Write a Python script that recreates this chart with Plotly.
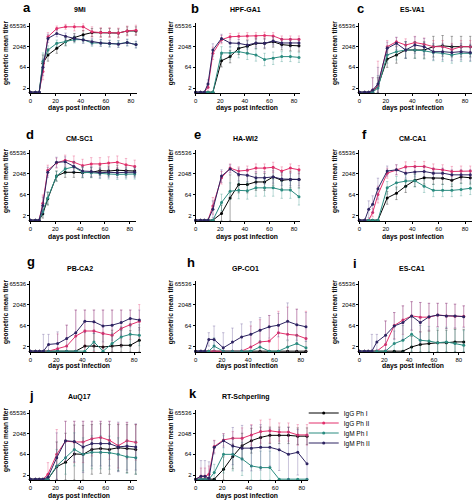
import plotly.graph_objects as go
import math

# ---------------- data (log2 of geometric mean titer) ----------------
days = [0, 4, 7, 10, 14, 21, 28, 35, 42, 49, 56, 63, 70, 77, 84]
series_names = ["IgG Ph I", "IgG Ph II", "IgM Ph I", "IgM Ph II"]
panel_letters = ["a", "b", "c", "d", "e", "f", "g", "h", "i", "j", "k"]
panel_titles = ["9Mi", "HPF-GA1", "ES-VA1", "CM-SC1", "HA-WI2", "CM-CA1",
                "PB-CA2", "GP-CO1", "ES-CA1", "AuQ17", "RT-Schperling"]
y_tick_titers = [2, 64, 2048, 65536]
x_ticks = [0, 20, 40, 60, 80]

# a 9Mi
a_igg1 = [0, 0, 0, 7, 9, 10.6, 12.2, 13.2, 13.9, 14.4, 14.4, 14.4, 14.3, 14.8, 14.8]
a_igg2 = [0, 0, 0, 5, 13.4, 15.4, 15.8, 15.8, 15.8, 14.6, 14.4, 14.4, 14.3, 14.8, 15.0]
a_igm1 = [0, 0, 0, 7.5, 10.2, 11.8, 12.2, 12.7, 12.7, 11.9, 11.9, 11.7, 11.7, 12.0, 11.5]
a_igm2 = [0, 0, 0, 6, 13.0, 14.2, 13.5, 13.0, 12.6, 12.2, 11.9, 11.8, 11.6, 12.0, 11.5]
a_igg1_err = [0, 0, 0, 2, 1.5, 1.2, 1, 1, 1, 1, 1, 1, 1, 1, 1]
a_igg2_err = [0, 0, 0, 2, 1, 0.6, 0.6, 1, 1, 1.2, 1.2, 1.2, 1.2, 1.2, 1.2]
a_igm1_err = [0, 0, 0, 2, 1, 0.8, 0.8, 0.8, 0.8, 0.8, 0.8, 0.8, 0.8, 0.8, 0.8]
a_igm2_err = [0, 0, 0, 2, 1, 0.8, 0.8, 0.8, 0.8, 0.8, 0.8, 0.8, 0.8, 0.8, 0.8]

# b HPF-GA1
b_igg1 = [0, 0, 0, 0, 0, 7.6, 8.6, 10.6, 11.1, 11.8, 11.8, 12.2, 11.5, 11.3, 11.2]
b_igg2 = [0, 0, 0, 1.2, 9.4, 12.7, 13.4, 13.5, 13.6, 13.6, 13.7, 13.6, 12.8, 12.8, 12.8]
b_igm1 = [0, 0, 0, 0, 0, 9.5, 9.5, 9.8, 9.4, 9.0, 7.9, 8.2, 8.6, 8.6, 8.4]
b_igm2 = [0, 0, 0, 2, 10.2, 13.0, 11.9, 11.8, 11.4, 11.9, 11.8, 12.4, 11.9, 11.9, 11.9]
b_igg1_err = [0, 0, 0, 0, 0, 1.5, 1.5, 1.5, 1.5, 1.3, 1.3, 1.3, 1.3, 1.3, 1.3]
b_igg2_err = [0, 0, 0, 1, 1.5, 1, 0.8, 0.8, 0.8, 0.8, 0.8, 0.8, 0.8, 0.8, 0.8]
b_igm1_err = [0, 0, 0, 0, 0, 1.5, 1.5, 1.5, 1.5, 1.5, 1.5, 1.5, 1.2, 1.2, 1.2]
b_igm2_err = [0, 0, 0, 1, 1.5, 1, 1, 1, 1, 1, 1, 1, 1, 1, 1]

# c ES-VA1
c_igg1 = [0, 0, 0, 0, 1.5, 8, 9, 10.2, 10.2, 10.2, 11, 11.2, 11, 11, 11]
c_igg2 = [0, 0, 0, 0.5, 1.5, 11, 12.2, 11.4, 12, 11.6, 11, 11, 10.3, 11, 11]
c_igm1 = [0, 0, 0, 0, 1, 9, 9.8, 10.2, 10.2, 10, 9.6, 9.4, 9, 9.4, 9.4]
c_igm2 = [0, 0, 0, 0.5, 2, 10.6, 11.8, 10.2, 11.4, 11, 9.8, 9.8, 9.6, 9.8, 9.6]
c_igg1_err = [0, 0, 0, 0, 2, 2, 2, 2, 2, 2, 2.5, 2.5, 2.5, 2.5, 2.5]
c_igg2_err = [0, 0, 0, 3, 6, 1.5, 1, 1.5, 1.5, 1.5, 1.5, 1.5, 1.5, 1.5, 1.5]
c_igm1_err = [0, 0, 0, 0, 3, 2, 2, 2, 2, 2, 2, 2, 2, 2, 2]
c_igm2_err = [0, 0, 0, 3, 4, 1.5, 1.5, 2, 2, 2, 2, 2, 2, 2, 2]

# d CM-SC1
d_igg1 = [0, 0, 0, 1.5, 5.1, 10.5, 11.4, 11.4, 11.3, 11.4, 11.8, 11.7, 11.9, 11.8, 11.7]
d_igg2 = [0, 0, 0, 4, 11.9, 13.6, 14.3, 13.8, 13.0, 13.4, 13.4, 13.6, 13.8, 13.2, 12.8]
d_igm1 = [0, 0, 0, 2, 5.3, 10.5, 12.2, 12.7, 11.4, 11.3, 11.1, 11.0, 10.9, 11.0, 11.0]
d_igm2 = [0, 0, 0, 3.5, 11.4, 13.8, 13.9, 12.8, 11.7, 11.6, 11.3, 11.4, 11.3, 11.4, 11.4]
d_igg1_err = [0, 0, 0, 1, 1.5, 1.2, 1.2, 1.2, 1.2, 1.2, 1.2, 1.2, 1.2, 1.2, 1.2]
d_igg2_err = [0, 0, 0, 2, 1.2, 1.2, 1.2, 1.5, 1.5, 1.5, 1.5, 1.5, 1.5, 1.5, 1.5]
d_igm1_err = [0, 0, 0, 1, 1.5, 1.2, 1.2, 1.2, 1.2, 1.2, 1.2, 1.2, 1.2, 1.2, 1.2]
d_igm2_err = [0, 0, 0, 2, 1.2, 1.2, 1.2, 1.2, 1.2, 1.2, 1.2, 1.2, 1.2, 1.2, 1.2]

# e HA-WI2
e_igg1 = [0, 0, 0, 0, 0, 1.6, 5.3, 8.5, 8.5, 9.1, 9.1, 10.3, 9.5, 9.7, 9.7]
e_igg2 = [0, 0, 0, 0, 3.4, 10.1, 12.4, 11.7, 11.9, 12.4, 12.4, 12.6, 11.7, 12.4, 12.0]
e_igm1 = [0, 0, 0, 0, 0, 4.2, 6.9, 7.1, 7.0, 7.7, 7.7, 7.7, 7.2, 7.2, 5.6]
e_igm2 = [0, 0, 0, 0, 2.6, 10.5, 12.2, 10.9, 10.7, 10.1, 10.1, 10.3, 9.8, 9.7, 9.7]
e_igg1_err = [0, 0, 0, 0, 0, 2, 5.5, 2, 2, 2, 2, 2, 2, 2, 2]
e_igg2_err = [0, 0, 0, 0, 2, 1.5, 1, 1, 1, 1, 1, 1.2, 1, 1, 1]
e_igm1_err = [0, 0, 0, 0, 0, 2, 2, 2, 2, 2, 2, 2, 2, 2, 2]
e_igm2_err = [0, 0, 0, 0, 2, 1.5, 1, 1.5, 1.5, 1.5, 1.5, 1.5, 1.5, 1.5, 1.5]

# f CM-CA1
f_igg1 = [0, 0, 0, 0, 0, 5.3, 6.4, 8.1, 9.5, 10.1, 10.0, 10.0, 9.5, 10.3, 10.1]
f_igg2 = [0, 0, 0, 1.8, 6.1, 11.2, 12.0, 12.7, 12.8, 12.8, 12.2, 12.0, 11.6, 11.7, 11.7]
f_igm1 = [0, 0, 0, 0, 0, 7.7, 8.9, 9.3, 9.4, 8.1, 7.1, 7.1, 7.1, 7.3, 7.6]
f_igm2 = [0, 0, 2.6, 3.8, 7.5, 11.7, 12.0, 11.2, 11.5, 11.6, 11.2, 11.2, 10.8, 10.8, 10.8]
f_igg1_err = [0, 0, 0, 0, 0, 1.5, 1.5, 1.5, 1.5, 1.5, 1.5, 1.5, 1.5, 1.5, 1.5]
f_igg2_err = [0, 0, 0, 1, 2, 1.2, 1.2, 1.2, 1.2, 1.2, 1.2, 1.2, 1.2, 1.2, 1.2]
f_igm1_err = [0, 0, 0, 0, 0, 1.5, 1.5, 1.5, 1.5, 1.5, 1.5, 1.5, 1.5, 1.5, 1.5]
f_igm2_err = [0, 0, 2, 2, 2.5, 1.2, 1.2, 1.2, 1.2, 1.2, 1.2, 1.2, 1.2, 1.2, 1.2]

# g PB-CA2
g_igg1 = [0, 0, 0, 0, 0, 0, 0, 0, 1.2, 1.2, 1.0, 1.2, 1.4, 1.4, 2.6]
g_igg2 = [0, 0, 0, 0, 0, 0.6, 1.2, 3.6, 4.8, 4.8, 4.2, 3.8, 5.4, 6.3, 7.1]
g_igm1 = [0, 0, 0, 0, 0, 0, 0, 0, 0, 2.2, 0, 1.8, 3.4, 4.0, 3.8]
g_igm2 = [0, 0, 0, 0, 1.6, 1.8, 3.0, 4.4, 7.1, 7.0, 6.0, 6.2, 6.8, 7.8, 7.4]
g_igg1_err = [0, 0, 0, 0, 0, 0, 0, 0, 3.8, 3.8, 3.5, 3.8, 3.5, 3.5, 3.0]
g_igg2_err = [0, 0, 0, 0, 0, 3.5, 5.0, 6.2, 5.0, 5.0, 5.6, 6.0, 4.4, 3.5, 4.0]
g_igm1_err = [0, 0, 0, 0, 0, 0, 0, 0, 0, 2.0, 0, 2.5, 2.5, 2.5, 2.5]
g_igm2_err = [0, 0, 0, 4.0, 2.4, 2.8, 3.2, 5.4, 2.7, 2.8, 3.8, 3.6, 3.0, 2.0, 2.4]

# h GP-CO1
h_igg1 = [0, 0, 0, 0, 0, 0, 0, 0, 0, 0, 0, 0, 0, 0, 0]
h_igg2 = [0, 0, 0, 0, 0, 0, 0, 0, 1.0, 2.2, 2.4, 4.4, 4.0, 3.8, 3.0]
h_igm1 = [0, 0, 0, 0, 1.2, 0, 0, 0, 0, 1.0, 0, 0, 1.0, 1.8, 0.8]
h_igm2 = [0, 0, 0, 2.8, 2.8, 0.8, 2.2, 3.4, 4.0, 5.0, 5.8, 6.2, 7.1, 6.3, 5.8]
h_igg1_err = [0, 0, 0, 0, 0, 0, 0, 0, 0, 0, 0, 0, 0, 0, 0]
h_igg2_err = [0, 0, 0, 0, 0, 0, 0, 0, 5.0, 5.3, 6.1, 5.1, 6.5, 6.2, 6.5]
h_igm1_err = [0, 0, 0, 0, 2.0, 0, 0, 0, 0, 1.5, 0, 0, 1.5, 2.0, 1.5]
h_igm2_err = [0, 0, 0, 1.6, 3.2, 3.6, 3.3, 3.1, 3.0, 3.0, 2.7, 2.8, 4.4, 3.7, 3.4]

# i ES-CA1
i_igg1 = [0, 0, 0, 0, 0, 0, 0, 0, 1.0, 1.6, 1.8, 2.0, 2.0, 2.2, 2.2]
i_igg2 = [0, 0, 0, 0, 0, 1.6, 6.1, 7.4, 8.4, 8.1, 8.1, 8.6, 8.4, 8.3, 8.3]
i_igm1 = [0, 0, 0, 0, 0, 0, 1.8, 2.6, 4.0, 2.6, 2.4, 2.0, 2.2, 1.8, 1.4]
i_igm2 = [0, 0, 0, 0, 2.2, 3.8, 6.0, 6.8, 8.4, 6.8, 8.2, 8.6, 8.4, 8.4, 8.2]
i_igg1_err = [0, 0, 0, 0, 0, 0, 0, 0, 2.5, 3.0, 3.0, 3.0, 3.0, 3.0, 3.0]
i_igg2_err = [0, 0, 0, 0, 0, 5.6, 3.1, 3.4, 3.4, 3.5, 3.3, 2.8, 3.0, 2.9, 2.5]
i_igm1_err = [0, 0, 0, 0, 0, 0, 3.0, 3.5, 4.0, 3.5, 3.5, 3.5, 3.5, 3.5, 3.5]
i_igm2_err = [0, 0, 0, 4.0, 1.8, 3.4, 3.2, 4.0, 3.4, 4.8, 3.2, 2.8, 3.0, 2.8, 2.6]

# j AuQ17
j_igg1 = [0, 0, 0, 0, 0, 3.0, 4.1, 6.1, 6.0, 7.2, 7.4, 7.2, 7.6, 7.4, 7.2]
j_igg2 = [0, 0, 0, 0, 1.2, 6.0, 9.2, 9.0, 9.0, 9.8, 10.1, 9.4, 8.1, 9.3, 8.9]
j_igm1 = [0, 0, 0, 0, 0, 3.2, 5.2, 7.2, 6.0, 6.5, 6.5, 6.4, 6.0, 5.4, 5.2]
j_igm2 = [0, 0, 0, 0, 0.5, 5.2, 9.3, 9.1, 7.8, 8.6, 8.6, 8.6, 7.8, 8.0, 7.8]
j_igg1_err = [0, 0, 0, 0, 0, 6.0, 7.0, 7.0, 7.0, 6.0, 6.0, 6.0, 5.6, 5.8, 6.0]
j_igg2_err = [0, 0, 0, 0, 2.8, 6.0, 4.8, 5.0, 5.0, 4.2, 3.9, 4.6, 5.4, 4.4, 4.3]
j_igm1_err = [0, 0, 0, 0, 0, 4.0, 4.0, 4.0, 4.0, 4.0, 4.0, 4.0, 4.0, 4.0, 4.0]
j_igm2_err = [0, 0, 0, 0, 0, 6.0, 4.7, 4.9, 6.2, 5.4, 5.4, 5.4, 6.0, 5.8, 5.6]

# k RT-Schperling
k_igg1 = [0, 0, 0, 0, 0, 2.4, 5.5, 8.1, 9.3, 10.1, 10.6, 10.6, 10.6, 10.4, 10.4]
k_igg2 = [0, 0.7, 0.7, 1.2, 7.9, 9.5, 9.9, 9.9, 10.7, 11.5, 11.7, 11.4, 11.4, 10.7, 10.7]
k_igm1 = [0, 0, 0, 0, 1.6, 6.0, 6.0, 4.9, 3.2, 2.8, 2.8, 0, 0, 0, 0]
k_igm2 = [0, 0.7, 0.7, 0.2, 7.7, 9.3, 8.0, 7.5, 7.5, 7.7, 7.7, 7.1, 6.0, 6.5, 3.7]
k_igg1_err = [0, 0, 0, 0, 0, 3.0, 3.0, 3.0, 3.0, 2.5, 2.0, 2.0, 2.0, 2.0, 2.0]
k_igg2_err = [0, 2.0, 2.0, 2.0, 1.5, 1.5, 1.6, 2.5, 2.5, 2.8, 2.8, 2.2, 2.2, 2.5, 2.5]
k_igm1_err = [0, 0, 0, 0, 2.0, 4.5, 4.0, 4.0, 4.0, 4.0, 4.0, 0, 0, 0, 0]
k_igm2_err = [0, 3.8, 3.8, 4.0, 1.6, 1.7, 4.5, 5.5, 5.5, 5.5, 4.5, 5.0, 6.5, 5.5, 7.0]

panel_values = [
    [a_igg1, a_igg2, a_igm1, a_igm2], [b_igg1, b_igg2, b_igm1, b_igm2],
    [c_igg1, c_igg2, c_igm1, c_igm2], [d_igg1, d_igg2, d_igm1, d_igm2],
    [e_igg1, e_igg2, e_igm1, e_igm2], [f_igg1, f_igg2, f_igm1, f_igm2],
    [g_igg1, g_igg2, g_igm1, g_igm2], [h_igg1, h_igg2, h_igm1, h_igm2],
    [i_igg1, i_igg2, i_igm1, i_igm2], [j_igg1, j_igg2, j_igm1, j_igm2],
    [k_igg1, k_igg2, k_igm1, k_igm2],
]
panel_errors = [
    [a_igg1_err, a_igg2_err, a_igm1_err, a_igm2_err], [b_igg1_err, b_igg2_err, b_igm1_err, b_igm2_err],
    [c_igg1_err, c_igg2_err, c_igm1_err, c_igm2_err], [d_igg1_err, d_igg2_err, d_igm1_err, d_igm2_err],
    [e_igg1_err, e_igg2_err, e_igm1_err, e_igm2_err], [f_igg1_err, f_igg2_err, f_igm1_err, f_igm2_err],
    [g_igg1_err, g_igg2_err, g_igm1_err, g_igm2_err], [h_igg1_err, h_igg2_err, h_igm1_err, h_igm2_err],
    [i_igg1_err, i_igg2_err, i_igm1_err, i_igm2_err], [j_igg1_err, j_igg2_err, j_igm1_err, j_igm2_err],
    [k_igg1_err, k_igg2_err, k_igm1_err, k_igm2_err],
]

# ---------------- styling / layout ----------------
W, H = 472, 500
FONT = "Liberation Sans, Arial, sans-serif"
line_colors = ["#000000", "#e2306c", "#2b8c80", "#2e2462"]
err_colors = ["rgba(60,60,60,0.75)", "rgba(226,48,108,0.55)",
              "rgba(43,140,128,0.55)", "rgba(90,70,140,0.55)"]

YMIN, YMAX = -0.2, 16.7
XMIN, XMAX = 0, 85
row_bottom = [93, 221, 352, 480]     # pixel of axis line
row_top16 = [26, 153, 284, 413]      # pixel of 65536 tick
col_x0 = [28.5, 194.5, 359]          # pixel of day 0
panel_x80 = [129.5, 293.3, 465, 128.3, 293.3, 465, 132.7, 300, 458.7, 129.3, 301]
title_cx = [78, 245, 412]
title_cy = [9.5, 138, 268, 397]
letter_pos = [(25, 7), (194, 8), (360, 8), (28, 134), (196, 134), (364, 134),
              (29, 261), (190, 262), (355, 263), (30, 395), (192, 393)]
xlab_cx = [77, 246, 413]
xlab_cy = [108, 237, 366, 496]
legend_rows = [413, 423, 433, 443]

fig = go.Figure()
layout = dict(width=W, height=H, margin=dict(l=0, r=0, t=0, b=0),
              paper_bgcolor="white", plot_bgcolor="white",
              font=dict(family=FONT, color="#000000"))
annotations = []

y_tickvals = [math.log2(t) for t in y_tick_titers]
y_ticktext = [str(t) for t in y_tick_titers]
legend_ids = ["legend", "legend2", "legend3", "legend4"]

for p in range(11):
    r, c = divmod(p, 3)
    n = p + 1
    xa, ya = f"x{n}", f"y{n}"
    scale_x = (panel_x80[p] - col_x0[c]) / 80.0
    x_left = col_x0[c] - (0 - XMIN) * scale_x
    x_right = min(W, col_x0[c] + (XMAX) * scale_x)
    scale_y = (row_bottom[r] - row_top16[r]) / (16 - YMIN)
    y_top = row_bottom[r] - (YMAX - YMIN) * scale_y
    xdom = [x_left / W, x_right / W]
    ydom = [1 - row_bottom[r] / H, 1 - y_top / H]
    axis_common = dict(showgrid=False, zeroline=False, showline=True, linecolor="#000000",
                       linewidth=1, ticks="outside", ticklen=2, tickwidth=1,
                       tickcolor="#000000", tickfont=dict(size=6, family=FONT))
    layout["xaxis" if n == 1 else f"xaxis{n}"] = dict(
        domain=xdom, range=[XMIN, XMAX], anchor=ya, tickvals=x_ticks, **axis_common)
    layout["yaxis" if n == 1 else f"yaxis{n}"] = dict(
        domain=ydom, range=[YMIN, YMAX], anchor=xa, tickvals=y_tickvals,
        ticktext=y_ticktext, **axis_common)

    for s in range(4):
        vals = panel_values[p][s]
        errs = panel_errors[p][s]
        minus = [min(e, v - YMIN) for e, v in zip(errs, vals)]
        fig.add_trace(go.Scatter(
            x=days, y=vals, mode="lines+markers", name=series_names[s],
            legend=legend_ids[s], showlegend=(p == 0),
            line=dict(color=line_colors[s], width=1),
            marker=dict(size=3, color=line_colors[s]),
            error_y=dict(type="data", array=errs, arrayminus=minus,
                         color=err_colors[s], thickness=0.6, width=1.2),
            cliponaxis=False, xaxis=xa, yaxis=ya))

    annotations.append(dict(text=f"<b>{panel_titles[p]}</b>", x=title_cx[c] / W,
                            y=1 - title_cy[r] / H, xref="paper", yref="paper",
                            showarrow=False, xanchor="center", yanchor="middle",
                            font=dict(size=7, family=FONT)))
    lx, ly = letter_pos[p]
    annotations.append(dict(text=f"<b>{panel_letters[p]}</b>", x=lx / W, y=1 - ly / H,
                            xref="paper", yref="paper", showarrow=False,
                            xanchor="center", yanchor="middle",
                            font=dict(size=13, family=FONT)))
    annotations.append(dict(text="<b>days post infection</b>", x=xlab_cx[c] / W,
                            y=1 - xlab_cy[r] / H, xref="paper", yref="paper",
                            showarrow=False, xanchor="center", yanchor="middle",
                            font=dict(size=6.8, family=FONT)))
    annotations.append(dict(text="<b>geometric mean titer</b>", x=(col_x0[c] - 24.5) / W,
                            y=1 - (row_bottom[r] - 40) / H, xref="paper", yref="paper",
                            showarrow=False, xanchor="center", yanchor="middle",
                            textangle=-90, font=dict(size=6.5, family=FONT)))

layout["annotations"] = annotations
layout["showlegend"] = True
for s, lid in enumerate(legend_ids):
    layout[lid] = dict(x=303 / W, y=1 - legend_rows[s] / H, xanchor="left", yanchor="middle",
                       font=dict(size=6.5, family=FONT), itemwidth=30,
                       bgcolor="rgba(0,0,0,0)", borderwidth=0)
fig.update_layout(**layout)
fig.write_html("out.html", config={"displayModeBar": False},
               post_script="document.body.style.margin='0px';")
